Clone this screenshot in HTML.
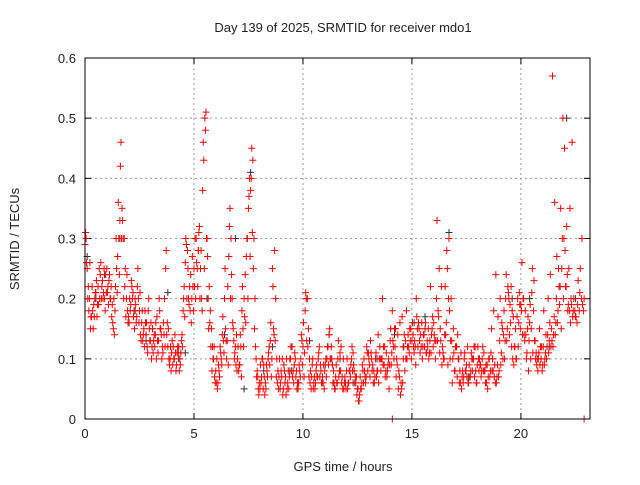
<!DOCTYPE html>
<html><head><meta charset="utf-8"><style>
body{margin:0;background:#fff}
svg text{font-family:"Liberation Sans",sans-serif;font-size:13px;fill:#222}
</style></head><body>
<svg id="chart" width="640" height="480" xmlns="http://www.w3.org/2000/svg">
<text x="343" y="32" text-anchor="middle">Day 139 of 2025, SRMTID for receiver mdo1</text>
<text x="343" y="471" text-anchor="middle">GPS time / hours</text>
<text transform="translate(19,239) rotate(-90)" text-anchor="middle">SRMTID / TECUs</text>
<g id="grid"></g><g id="ticks"></g><g id="marks"></g>
<rect x="85" y="58" width="505" height="361" fill="none" stroke="#000"/>
</svg>
<script>
const xTicks=[0,5,10,15,20];
const yTicks=[0,0.1,0.2,0.3,0.4,0.5,0.6];
const yTickLabels=["0","0.1","0.2","0.3","0.4","0.5","0.6"];
const seriesA=[0.29,0.25,0.2,0.17,0.19,0.21,0.22,0.24,0.23,0.2,0.25,0.23,0.22,0.15,0.22,0.27,0.33,0.35,0.3,0.2,0.17,0.19,0.21,0.2,0.22,0.18,0.16,0.15,0.14,0.18,0.13,0.15,0.12,0.17,0.2,0.14,0.16,0.25,0.12,0.1,0.13,0.1,0.09,0.12,0.11,0.18,0.26,0.28,0.22,0.2,0.25,0.3,0.28,0.25,0.38,0.5,0.3,0.22,0.15,0.1,0.08,0.06,0.12,0.14,0.2,0.1,0.27,0.3,0.15,0.12,0.1,0.09,0.18,0.2,0.27,0.35,0.38,0.43,0.2,0.08,0.06,0.07,0.09,0.05,0.1,0.13,0.25,0.28,0.1,0.07,0.08,0.05,0.07,0.06,0.1,0.12,0.09,0.08,0.06,0.1,0.12,0.18,0.2,0.1,0.07,0.06,0.08,0.1,0.09,0.07,0.08,0.1,0.14,0.12,0.08,0.07,0.1,0.11,0.07,0.06,0.08,0.06,0.09,0.11,0.07,0.05,0.04,0.06,0.1,0.07,0.11,0.13,0.09,0.07,0.08,0.1,0.1,0.12,0.08,0.09,0.13,0.18,0.15,0.1,0.08,0.06,0.1,0.13,0.12,0.15,0.13,0.11,0.2,0.16,0.14,0.12,0.15,0.13,0.11,0.14,0.16,0.13,0.18,0.15,0.12,0.14,0.28,0.3,0.2,0.15,0.12,0.14,0.08,0.07,0.1,0.09,0.06,0.08,0.1,0.12,0.09,0.1,0.08,0.11,0.09,0.07,0.08,0.1,0.09,0.07,0.08,0.11,0.14,0.2,0.22,0.19,0.18,0.12,0.1,0.16,0.19,0.2,0.18,0.15,0.16,0.21,0.23,0.11,0.1,0.12,0.09,0.1,0.12,0.13,0.15,0.14,0.16,0.18,0.22,0.3,0.45,0.32,0.25,0.2,0.18,0.17,0.19,0.21,0.3,0.2];
const seriesB=[0.3,0.22,0.15,0.18,0.2,0.17,0.25,0.2,0.21,0.24,0.22,0.2,0.19,0.14,0.25,0.3,0.46,0.3,0.25,0.18,0.2,0.22,0.18,0.16,0.2,0.14,0.13,0.18,0.12,0.15,0.1,0.13,0.16,0.11,0.15,0.12,0.2,0.14,0.1,0.08,0.12,0.11,0.12,0.1,0.14,0.22,0.29,0.2,0.24,0.22,0.3,0.25,0.32,0.2,0.43,0.51,0.2,0.18,0.12,0.07,0.1,0.08,0.1,0.13,0.15,0.22,0.35,0.2,0.1,0.14,0.08,0.12,0.15,0.24,0.3,0.4,0.45,0.3,0.1,0.05,0.09,0.1,0.04,0.08,0.12,0.07,0.15,0.2,0.08,0.05,0.1,0.08,0.1,0.05,0.12,0.08,0.1,0.06,0.08,0.13,0.07,0.2,0.15,0.08,0.1,0.05,0.07,0.12,0.06,0.09,0.1,0.12,0.1,0.09,0.05,0.06,0.07,0.12,0.1,0.06,0.05,0.08,0.12,0.08,0.07,0.03,0.05,0.08,0.07,0.11,0.09,0.1,0.08,0.11,0.14,0.1,0.2,0.12,0.07,0.05,0.09,0.12,0.15,0.14,0.16,0.17,0.14,0.18,0.12,0.15,0.14,0.12,0.15,0.13,0.16,0.14,0.11,0.15,0.22,0.17,0.13,0.33,0.25,0.22,0.1,0.14,0.09,0.1,0.06,0.08,0.12,0.1,0.11,0.06,0.08,0.12,0.07,0.1,0.12,0.06,0.1,0.09,0.12,0.08,0.09,0.1,0.15,0.18,0.24,0.17,0.2,0.15,0.1,0.13,0.2,0.22,0.17,0.15,0.2,0.19,0.26,0.14,0.1,0.08,0.1,0.11,0.13,0.1,0.15,0.12,0.18,0.14,0.2,0.24,0.57,0.36,0.27,0.22,0.15,0.2,0.22,0.18,0.35,0.46];
const seriesC=[0.31,0.2,0.26,0.22,0.17,0.23,0.19,0.26,0.2,0.18,0.21,0.24,0.17,0.2,0.3,0.36,0.42,0.33,0.22,0.24,0.16,0.23,0.17,0.19,0.25,0.21,0.18,0.12,0.16,0.2,0.16,0.11,0.14,0.13,0.18,0.1,0.14,0.28,0.15,0.12,0.09,0.14,0.11,0.08,0.13,0.2,0.3,0.25,0.18,0.27,0.22,0.26,0.31,0.28,0.46,0.48,0.27,0.16,0.08,0.12,0.06,0.09,0.11,0.17,0.25,0.13,0.32,0.24,0.13,0.09,0.12,0.14,0.22,0.17,0.3,0.37,0.4,0.25,0.12,0.07,0.05,0.1,0.07,0.09,0.11,0.16,0.22,0.13,0.06,0.1,0.07,0.09,0.04,0.08,0.1,0.07,0.11,0.05,0.09,0.14,0.16,0.21,0.12,0.06,0.09,0.07,0.09,0.11,0.08,0.06,0.09,0.12,0.15,0.1,0.06,0.09,0.13,0.08,0.05,0.07,0.1,0.08,0.1,0.09,0.06,0.05,0.07,0.09,0.08,0.12,0.1,0.11,0.06,0.1,0.08,0.12,0.1,0.09,0.11,0.1,0.15,0.13,0.12,0.09,0.07,0.05,0.12,0.1,0.14,0.13,0.16,0.13,0.17,0.15,0.12,0.14,0.16,0.12,0.13,0.15,0.14,0.2,0.17,0.13,0.11,0.22,0.25,0.18,0.13,0.11,0.12,0.1,0.06,0.08,0.11,0.07,0.09,0.11,0.1,0.08,0.12,0.09,0.1,0.08,0.06,0.1,0.11,0.08,0.06,0.09,0.13,0.16,0.18,0.24,0.21,0.16,0.1,0.12,0.17,0.21,0.18,0.2,0.14,0.17,0.19,0.25,0.13,0.09,0.11,0.1,0.12,0.11,0.14,0.16,0.13,0.17,0.2,0.25,0.35,0.5,0.28,0.24,0.18,0.19,0.2,0.17,0.23,0.25,0.19];
const seriesD=[0.26,0.18,0.17,0.15,0.21,0.19,0.2,0.22,0.25,0.21,0.19,0.2,0.16,0.18,0.21,0.24,0.3,0.2,0.17,0.16,0.18,0.2,0.15,0.17,0.16,0.13,0.14,0.16,0.11,0.13,0.12,0.14,0.1,0.13,0.15,0.11,0.12,0.16,0.09,0.11,0.1,0.08,0.11,0.09,0.12,0.17,0.2,0.19,0.16,0.18,0.2,0.22,0.2,0.18,0.25,0.3,0.15,0.12,0.1,0.06,0.05,0.07,0.09,0.11,0.13,0.09,0.2,0.16,0.11,0.08,0.09,0.07,0.12,0.16,0.2,0.27,0.31,0.15,0.07,0.04,0.06,0.05,0.06,0.07,0.09,0.1,0.14,0.07,0.05,0.06,0.04,0.06,0.05,0.07,0.08,0.06,0.07,0.05,0.07,0.09,0.11,0.13,0.07,0.05,0.05,0.06,0.07,0.07,0.06,0.05,0.07,0.09,0.1,0.06,0.05,0.06,0.08,0.06,0.05,0.05,0.06,0.07,0.08,0.06,0.04,0.03,0.05,0.06,0.06,0.08,0.07,0.08,0.06,0.07,0.06,0.08,0.09,0.07,0.08,0.09,0.11,0.1,0.07,0.05,0.04,0.06,0.08,0.1,0.11,0.1,0.12,0.09,0.12,0.11,0.1,0.12,0.11,0.1,0.11,0.12,0.1,0.13,0.11,0.09,0.1,0.16,0.2,0.13,0.1,0.08,0.07,0.06,0.05,0.07,0.08,0.06,0.07,0.08,0.07,0.06,0.08,0.07,0.08,0.06,0.05,0.07,0.08,0.07,0.06,0.07,0.09,0.1,0.13,0.15,0.14,0.12,0.09,0.1,0.12,0.15,0.14,0.13,0.11,0.13,0.15,0.18,0.1,0.08,0.09,0.08,0.09,0.1,0.11,0.12,0.12,0.14,0.16,0.19,0.25,0.3,0.22,0.19,0.16,0.17,0.18,0.16,0.18,0.2,0.18];
const blackT=[0.1,0.5,0.9,1.6,2.3,2.8,3.1,3.8,4.3,4.6,5.2,5.6,6.4,6.9,7.3,7.6,8.2,8.6,9.4,9.8,10.3,11.2,11.7,12.3,13.4,14.2,14.6,15.1,15.6,16.7,17.6,18.1,18.7,19.6,20.4,21.3,22.1,22.5];
const blackV=[0.27,0.2,0.24,0.3,0.18,0.13,0.15,0.21,0.1,0.11,0.28,0.2,0.14,0.3,0.05,0.41,0.08,0.12,0.08,0.06,0.13,0.14,0.1,0.06,0.1,0.14,0.12,0.16,0.17,0.31,0.07,0.1,0.1,0.2,0.2,0.12,0.5,0.2];
const zeroT=[14.1,22.9];
const zeroV=[0,0];
const X0=85,X1=590,Y0=419,Y1=58,XMAX=23.17,YMAX=0.6;
const xs=v=>X0+v/XMAX*(X1-X0);
const ys=v=>Y0-v/YMAX*(Y0-Y1);
const NS="http://www.w3.org/2000/svg";
function mk(tag,attrs,parent){const e=document.createElementNS(NS,tag);for(const k in attrs)e.setAttribute(k,attrs[k]);parent.appendChild(e);return e;}
const grid=document.getElementById('grid'),ticks=document.getElementById('ticks'),marks=document.getElementById('marks');
xTicks.forEach(t=>{const x=xs(t);
 if(t>0){const g=mk('line',{x1:x,x2:x,y1:Y1,y2:Y0,stroke:'#999','stroke-dasharray':'2,3'},grid);
 
 }
 const l=mk('text',{x:x,y:Y0+19,'text-anchor':'middle'},ticks);l.textContent=t;
 
 
 mk('line',{x1:x,x2:x,y1:Y0,y2:Y0-6,stroke:'#000'},ticks);mk('line',{x1:x,x2:x,y1:Y1,y2:Y1+6,stroke:'#000'},ticks);});
yTicks.forEach((t,i)=>{const y=ys(t);
 if(t>0&&t<YMAX){const g=mk('line',{x1:X0,x2:X1,y1:y,y2:y,stroke:'#999','stroke-dasharray':'2,3'},grid);
 
 }
 const l=mk('text',{x:X0-9,y:y+5,'text-anchor':'end'},ticks);l.textContent=yTickLabels[i];
 
 
 mk('line',{x1:X0,x2:X0+6,y1:y,y2:y,stroke:'#000'},ticks);mk('line',{x1:X1,x2:X1-6,y1:y,y2:y,stroke:'#000'},ticks);});
function plus(t,v,color,name){const x=xs(t),y=ys(v);
 const p=mk('path',{d:`M${x-3.5},${y}h7M${x},${y-3.5}v7`,stroke:color,'stroke-width':1,fill:'none'},marks);
 
 }
blackT.forEach((t,i)=>plus(t,blackV[i],'#333','black-point'));
seriesD.forEach((v,i)=>plus(0.075+i*0.1,v,'#f00','red-point'));
seriesC.forEach((v,i)=>plus(0.025+i*0.1,v,'#f00','red-point'));
seriesA.forEach((v,i)=>plus(i*0.1,v,'#f00','red-point'));
seriesB.forEach((v,i)=>plus(0.05+i*0.1,v,'#f00','red-point'));
zeroT.forEach((t,i)=>plus(t,zeroV[i],'#f00','zero-point'));
</script>
</body></html>
